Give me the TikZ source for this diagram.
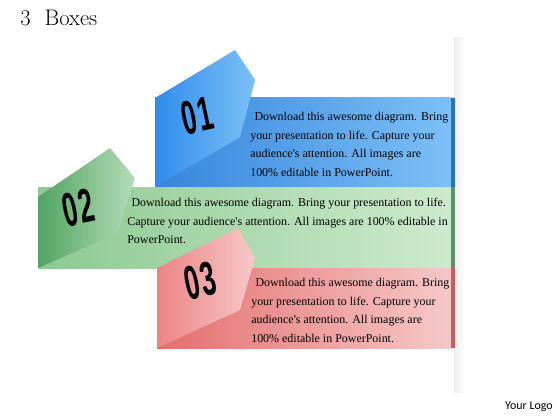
\documentclass[tikz,border=0pt]{standalone}
\usepackage{fontspec}
\newfontfamily\logofont{Carlito}
\newfontfamily\bodyfont{Liberation Serif}
\newfontfamily\numfont[FakeStretch=0.55]{Liberation Sans}
\definecolor{blueband}{HTML}{3585DC}
\definecolor{bluelight}{HTML}{7CC0F6}
\definecolor{bluetab}{HTML}{2F8CEB}
\definecolor{greenband}{HTML}{8DC992}
\definecolor{greenlight}{HTML}{CDEACD}
\definecolor{greentab}{HTML}{52A462}
\definecolor{redband}{HTML}{E46E6E}
\definecolor{redlight}{HTML}{F6C8C8}
\definecolor{redtab}{HTML}{EC8484}

\begin{document}
\begin{tikzpicture}[x=0.025cm,y=-0.025cm,
    bandtext/.style={anchor=north west,align=left,inner sep=0pt,
      font=\bodyfont\fontsize{8.5}{13.2}\selectfont},
    tabnum/.style={inner sep=0pt,text=black,rotate=12,
      font=\numfont\bfseries\fontsize{34}{34}\selectfont}]
    \useasboundingbox (0,0) rectangle (560,420);
    % points of the three tabs
    \coordinate (A1) at (155,98);  \coordinate (B1) at (235,50);
    \coordinate (C1) at (255,80);  \coordinate (D1) at (240,137);
    \coordinate (E1) at (155,187);
    \coordinate (A2) at (38,197);  \coordinate (B2) at (110,148);
    \coordinate (C2) at (135,178); \coordinate (D2) at (118,233);
    \coordinate (E2) at (38,268);
    \coordinate (A3) at (157,268); \coordinate (B3) at (238,228);
    \coordinate (C3) at (255,258); \coordinate (D3) at (240,310);
    \coordinate (E3) at (157,348);
    % fold shadow on the right
    \shade[left color=black!7,right color=white] (454,38) rectangle (466,392);
    % box 1
    \shade[left color=blueband,right color=bluelight] (155,98) rectangle (451,187);
    \fill[blueband!85!black] (451,98) rectangle (455,187);
    \shade[left color=bluetab,right color=bluelight] (A1) -- (B1) -- (C1) -- (D1) -- (E1) -- cycle;
    \node[tabnum] (n1) at (197,116) {0\kern1pt1};
    % box 2
    \shade[left color=greenband,right color=greenlight] (38,187) rectangle (451,268);
    \fill[greenband!70!black] (451,187) rectangle (455,268);
    \shade[left color=greentab,right color=greenlight!80!greentab] (A2) -- (B2) -- (C2) -- (D2) -- (E2) -- cycle;
    \node[tabnum] (n2) at (78,208) {0\kern1pt2};
    % box 3
    \shade[left color=redband,right color=redlight] (157,268) rectangle (451,348);
    \fill[redband!85!black] (451,268) rectangle (455,348);
    \shade[left color=redtab,right color=redlight] (A3) -- (B3) -- (C3) -- (D3) -- (E3) -- cycle;
    \node[tabnum] (n3) at (200,281) {0\kern1pt3};
    % texts
    \node[bandtext] (t1) at (250,112) {\hspace{3pt}Download this awesome diagram. Bring\\
      your presentation to life. Capture your\\
      audience's attention. All images are\\
      100\% editable in PowerPoint.};
    \node[bandtext] (t2) at (127,198) {\hspace{3pt}Download this awesome diagram. Bring your presentation to life.\\
      Capture your audience's attention. All images are 100\% editable in\\
      PowerPoint.};
    \node[bandtext] (t3) at (251,278) {\hspace{3pt}Download this awesome diagram. Bring\\
      your presentation to life. Capture your\\
      audience's attention. All images are\\
      100\% editable in PowerPoint.};
    \node[anchor=base west,inner sep=0pt,font=\fontsize{16}{16}\selectfont] (title) at (20,26) {3\hspace{10pt}Boxes};
    \node[anchor=base east,inner sep=0pt,font=\logofont\fontsize{8.5}{8.5}\selectfont] (logo) at (553,409) {Your Logo};
\end{tikzpicture}
\end{document}
